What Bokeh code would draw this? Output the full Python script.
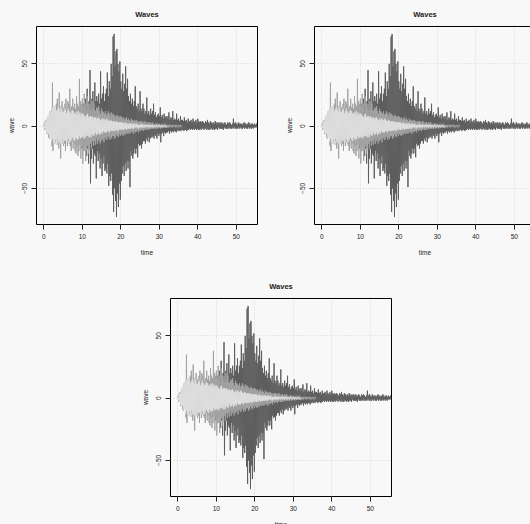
from bokeh.plotting import figure
from bokeh.layouts import column, row
from bokeh.models import Range1d, FixedTicker, Spacer
from bokeh.embed import file_html
from bokeh.resources import INLINE

# sampling step of the three recorded traces (time units): 16 samples per 2 time units
DT = 0.125

# dark trace, t = 0 .. 55.5
wave_dark = [
    0, 1, -1, 2, -2, 1, -2, 3, -3, 2, -2, 4, -3, 3, -4, 2,
    4, -3, 3, -5, 4, -3, 5, -4, 3, -5, 4, -3, 5, -4, 3, -5,
    5, -4, 6, -5, 4, -6, 5, -4, 6, -5, 7, -6, 5, -7, 6, -5,
    7, -8, 6, -7, 8, -6, 9, -8, 7, -9, 10, -8, 9, -10, 8, -9,
    8, -7, 10, -6, 7, -9, 6, -8, 9, -7, 12, -8, 15, -10, 9, -18,
    14, -12, 18, -20, 12, -16, 22, -14, 16, -24, 30, -18, 14, -30, 20, -16,
    45, -46, 18, -26, 22, -18, 28, -30, 16, -22, 35, -24, 20, -42, 24, -20,
    20, -28, 26, -22, 18, -34, 44, -26, 22, -40, 26, -30, 32, -24, 20, -36,
    26, -34, 30, -38, 43, -30, 24, -48, 36, -40, 30, -44, 50, -38, 40, -55,
    72, -69, 74, -50, 48, -60, 60, -73, 62, -54, 50, -65, 44, -46, 52, -59,
    36, -44, 30, -38, 42, -32, 28, -40, 34, -30, 48, -36, 30, -28, 38, -34,
    24, -28, 20, -49, 26, -20, 18, -24, 22, -26, 16, -22, 20, -18, 32, -22,
    16, -18, 14, -25, 18, -14, 12, -16, 28, -15, 14, -18, 12, -14, 18, -12,
    14, -12, 10, -14, 12, -10, 23, -12, 10, -9, 12, -13, 9, -10, 14, -9,
    10, -9, 12, -8, 18, -10, 9, -7, 11, -8, 7, -10, 9, -6, 10, -8,
    8, -6, 15, -13, 7, -6, 9, -5, 6, -8, 10, -5, 7, -6, 8, -5,
    6, -5, 8, -4, 11, -6, 5, -4, 7, -5, 6, -4, 12, -5, 5, -4,
    6, -4, 5, -5, 10, -4, 5, -3, 6, -4, 4, -3, 8, -4, 5, -3,
    5, -3, 4, -4, 7, -3, 4, -3, 5, -4, 3, -3, 6, -3, 4, -2,
    4, -3, 5, -2, 3, -3, 6, -2, 4, -3, 3, -2, 5, -3, 3, -2,
    6, -3, 4, -3, 3, -2, 4, -3, 3, -2, 4, -2, 3, -3, 2, -2,
    4, -2, 3, -3, 5, -2, 3, -3, 2, -3, 4, -2, 3, -2, 2, -3,
    3, -2, 2, -3, 4, -2, 3, -2, 2, -3, 3, -1, 2, -2, 3, -2,
    2, -2, 3, -2, 2, -3, 2, -1, 3, -2, 2, -2, 1, -2, 3, -2,
    2, -1, 3, -2, 2, -2, 1, -2, 2, -1, 6, -2, 2, -1, 3, -2,
    2, -2, 1, -2, 3, -1, 2, -2, 2, -1, 2, -2, 1, -2, 2, -1,
    3, -2, 2, -1, 2, -2, 1, -2, 2, -1, 3, -2, 2, -1, 1, -2,
    2, -1, 2, -2, 1, -1, 2, -1, 1, -1, 2, -1,
]

# medium trace, t = 0 .. 36
wave_mid = [
    0, 2, -3, 4, -2, 5, -6, 4, -5, 8, -9, 7, -10, 12, -8, 10,
    14, -16, 35, -20, 12, -10, 16, -14, 10, -12, 18, -15, 22, -12, 14, -18,
    27, -14, 12, -26, 16, -12, 20, -14, 15, -16, 12, -14, 18, -20, 22, -12,
    14, -16, 20, -12, 18, -14, 30, -16, 14, -20, 16, -12, 22, -18, 15, -14,
    18, -20, 14, -22, 24, -16, 18, -24, 16, -20, 38, -15, 20, -26, 18, -16,
    22, -30, 16, -20, 26, -16, 18, -28, 14, -20, 24, -16, 18, -22, 14, -18,
    18, -14, 12, -18, 20, -12, 14, -16, 18, -12, 13, -15, 12, -10, 15, -14,
    14, -12, 16, -10, 12, -14, 10, -12, 14, -11, 12, -10, 11, -13, 10, -9,
    12, -10, 9, -11, 10, -8, 12, -9, 10, -11, 8, -9, 11, -10, 9, -8,
    10, -8, 9, -10, 7, -9, 8, -7, 9, -8, 7, -9, 8, -6, 7, -8,
    8, -6, 7, -7, 6, -8, 7, -6, 5, -7, 6, -5, 7, -6, 5, -6,
    6, -5, 5, -6, 4, -5, 6, -4, 5, -5, 4, -6, 5, -4, 4, -5,
    5, -4, 4, -4, 3, -5, 4, -3, 4, -4, 3, -3, 4, -3, 3, -4,
    3, -3, 4, -2, 3, -3, 2, -3, 3, -2, 3, -3, 2, -2, 3, -2,
    2, -2, 3, -2, 2, -2, 1, -2, 2, -2, 2, -1, 2, -2, 1, -1,
    2, -1, 1, -2, 1, -1, 2, -1, 1, -1, 1, -1, 2, -1, 1, -1,
    1, -1, 1, -1, 1, -1, 1, 0, 1, -1, 0, 1, -1, 0, 1, 0,
    0, 1, -1, 0, 1, 0, -1, 0, 1, 0, 0, -1, 0, 1, 0, 0,
]

# light trace, t = 0 .. 32
wave_light = [
    0, 1, -2, 3, -2, 4, -5, 6, -7, 8, -6, 10, -9, 12, -8, 11,
    -12, 14, -10, 15, -13, 12, -14, 16, -11, 13, -15, 12, -10, 14, -13, 15,
    -12, 13, -14, 11, -13, 15, -10, 12, -14, 11, -12, 13, -11, 14, -12, 10,
    -13, 12, -10, 14, -11, 12, -13, 10, -12, 11, -10, 13, -9, 12, -11, 10,
    -12, 10, -9, 11, -10, 9, -11, 12, -10, 9, -8, 11, -10, 8, -9, 10,
    -9, 10, -8, 9, -10, 8, -9, 7, -8, 9, -7, 10, -8, 7, -9, 8,
    -7, 8, -9, 7, -6, 8, -7, 6, -8, 7, -6, 7, -5, 6, -7, 6,
    -6, 7, -5, 6, -7, 5, -6, 5, -5, 6, -6, 5, -4, 6, -5, 5,
    -5, 4, -5, 6, -4, 5, -4, 4, -5, 4, -3, 5, -4, 4, -4, 3,
    -4, 4, -3, 4, -4, 3, -3, 4, -3, 3, -4, 3, -3, 3, -2, 3,
    -3, 3, -2, 3, -3, 2, -3, 2, -2, 3, -2, 2, -3, 2, -2, 2,
    -2, 2, -2, 2, -2, 2, -1, 2, -2, 1, -2, 2, -1, 2, -1, 1,
    -1, 2, -1, 1, -2, 1, -1, 1, -1, 1, -1, 2, -1, 1, -1, 1,
    -1, 1, -1, 1, 0, 1, -1, 1, 0, 1, -1, 0, 1, -1, 0, 1,
    0, -1, 1, 0, -1, 0, 1, 0, -1, 0, 1, 0, 0, -1, 0, 1,
    0, 0, -1, 0, 1, 0, 0, -1, 0, 0, 1, 0, 0, 0, -1, 0,
]

x_ticks = [0, 10, 20, 30, 40, 50]
y_ticks = [-50, 0, 50]
title_text = "Waves"
x_label = "time"
y_label = "wave"

series = [
    (wave_dark, "#5e5e5e"),
    (wave_mid, "#a3a3a3"),
    (wave_light, "#dedede"),
]

BG = "#f8f8f8"
FONT = "Liberation Sans"
TEXT = "#222222"


def make_panel():
    p = figure(width=278, height=272, output_backend="svg", toolbar_location=None,
               x_range=Range1d(-1.9, 55.5), y_range=Range1d(-79, 80),
               min_border_left=36, min_border_right=21,
               min_border_top=26, min_border_bottom=48,
               title=title_text)
    p.background_fill_color = BG
    p.border_fill_color = BG
    p.outline_line_color = "black"
    p.outline_line_width = 1

    p.title.align = "center"
    p.title.text_font = FONT
    p.title.text_font_size = "7.5px"
    p.title.text_font_style = "bold"
    p.title.text_color = TEXT
    p.title.standoff = 15

    for wave, color in series:
        t = [i * DT for i in range(len(wave))]
        p.line(t, wave, line_color=color, line_width=1)

    p.xaxis.ticker = FixedTicker(ticks=x_ticks)
    p.yaxis.ticker = FixedTicker(ticks=y_ticks)
    p.xgrid.ticker = FixedTicker(ticks=x_ticks)
    p.ygrid.ticker = FixedTicker(ticks=y_ticks)
    p.grid.grid_line_color = "#d6d6d6"
    p.grid.grid_line_dash = "1 2"
    p.grid.grid_line_width = 1

    for ax in (p.xaxis[0], p.yaxis[0]):
        ax.axis_line_color = None
        ax.major_tick_line_color = TEXT
        ax.major_tick_out = 5
        ax.major_tick_in = 0
        ax.minor_tick_line_color = None
        ax.major_label_text_font = FONT
        ax.major_label_text_font_size = "6.5px"
        ax.major_label_text_color = TEXT
        ax.axis_label_text_font = FONT
        ax.axis_label_text_font_size = "6.5px"
        ax.axis_label_text_font_style = "normal"
        ax.axis_label_text_color = TEXT

    p.xaxis.axis_label = x_label
    p.yaxis.axis_label = y_label
    p.xaxis.major_label_standoff = 4
    p.xaxis.axis_label_standoff = 7
    p.yaxis.major_label_standoff = 4
    p.yaxis.axis_label_standoff = 5
    p.yaxis.major_label_orientation = "vertical"
    return p


p1 = make_panel()
p2 = make_panel()
p3 = make_panel()

layout = column(row(p1, p2), row(Spacer(width=134, height=272), p3))

html = file_html(layout, INLINE)
html = html.replace("</head>", "<style>html, body { background-color: #f8f8f8; }</style>\n</head>", 1)
open("out.html", "w").write(html)
